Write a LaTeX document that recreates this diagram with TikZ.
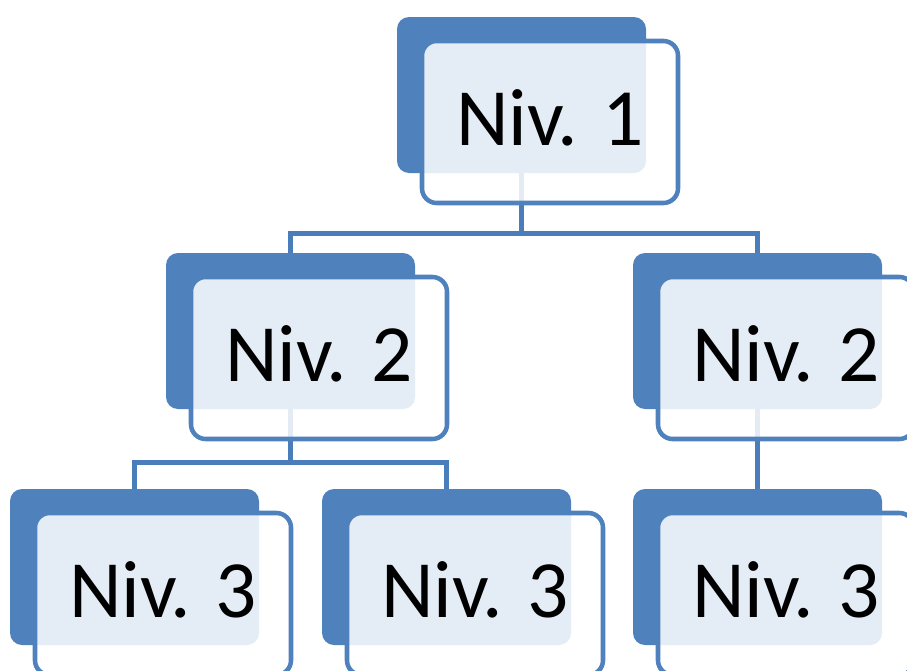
\documentclass[tikz,border=0pt]{standalone}
\usepackage{fontspec}
\setmainfont{Carlito}
\definecolor{boxblue}{HTML}{4F81BD}
\definecolor{lineblue}{HTML}{4A7EBB}
\begin{document}
\begin{tikzpicture}[x=0.75pt,y=-0.75pt,
  backbox/.style={rectangle, rounded corners=9pt, fill=boxblue,
    minimum width=186.75pt, minimum height=117pt, inner sep=0pt},
  frontbox/.style={rectangle, rounded corners=11pt, draw=boxblue, line width=3.4pt,
    fill=white, fill opacity=0.85, text opacity=1, draw opacity=1,
    minimum width=192pt, minimum height=121.5pt, inner sep=0pt,
    font=\fontsize{61}{61}\selectfont, text height=39pt, text depth=4.5pt},
  link/.style={draw=lineblue, line width=3.4pt}]
\useasboundingbox (0,0) rectangle (907,671);
% back boxes
\node[backbox] (b1)  at (521.5,95) {};
\node[backbox] (b2l) at (290.5,331) {};
\node[backbox] (b2r) at (757.5,331) {};
\node[backbox] (b3a) at (134.5,567) {};
\node[backbox] (b3b) at (446.5,567) {};
\node[backbox] (b3c) at (757.5,567) {};
% connectors
\draw[link] (b1.south) -- ++(0,60) -| (b2l.north);
\draw[link] (b1.south) -- ++(0,60) -| (b2r.north);
\draw[link] (b2l.south) -- ++(0,53) -| (b3a.north);
\draw[link] (b2l.south) -- ++(0,53) -| (b3b.north);
\draw[link] (b2r.south) -- (b3c.north);
% front boxes
\node[frontbox] (f1)  at ([shift={(28.5,27)}]b1.center)  {Niv. 1};
\node[frontbox] (f2l) at ([shift={(28.5,27)}]b2l.center) {Niv. 2};
\node[frontbox] (f2r) at ([shift={(28.5,27)}]b2r.center) {Niv. 2};
\node[frontbox] (f3a) at ([shift={(28.5,27)}]b3a.center) {Niv. 3};
\node[frontbox] (f3b) at ([shift={(28.5,27)}]b3b.center) {Niv. 3};
\node[frontbox] (f3c) at ([shift={(28.5,27)}]b3c.center) {Niv. 3};
\end{tikzpicture}
\end{document}
